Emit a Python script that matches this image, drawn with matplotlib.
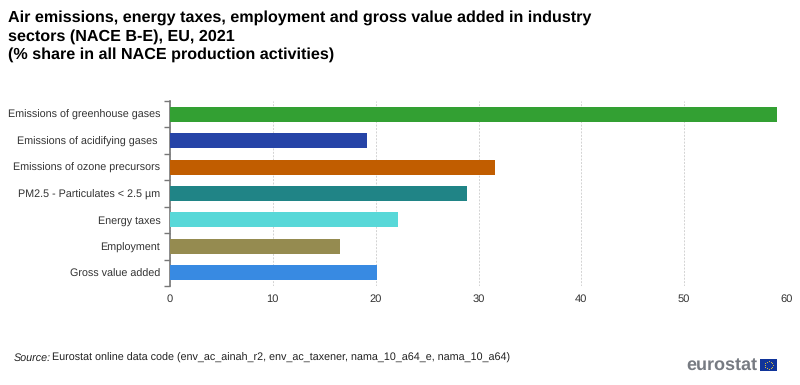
# -*- coding: utf-8 -*-
import numpy as np
import matplotlib.pyplot as plt
from matplotlib.patches import Rectangle

categories = ['Emissions of greenhouse gases', 'Emissions of acidifying gases ',
              'Emissions of ozone precursors', 'PM2.5 - Particulates < 2.5 µm',
              'Energy taxes', 'Employment', 'Gross value added']
values = [59.0, 19.2, 31.6, 28.9, 22.15, 16.5, 20.1]
colors = ['#33A033', '#2644A7', '#C15D00', '#208486', '#58D8D8', '#958B50', '#388AE2']
xticks = [0, 10, 20, 30, 40, 50, 60]

plt.rcParams['font.family'] = ['Liberation Sans', 'DejaVu Sans']
plt.rcParams['text.hinting'] = 'no_hinting'

W, H = 800, 385
fig = plt.figure(figsize=(W / 100, H / 100), dpi=100)
ax = fig.add_axes([170 / W, 1 - 286 / H, (787 - 170) / W, (286 - 101) / H])

# bars
y = np.arange(len(categories))
ax.barh(y, values, height=0.57, color=colors, zorder=3)
ax.set_ylim(len(categories) - 0.5, -0.5)
ax.set_xlim(0, 60)

ax.set_xticks(xticks)
ax.set_yticks(y)
ax.set_yticklabels(categories)
ax.set_yticks(np.arange(-0.5, len(categories)), minor=True)
ax.grid(axis='x', color='#D2D2D2', linestyle=(0, (2, 1.5)), linewidth=0.7, zorder=0)
ax.tick_params(axis='y', which='major', length=0, pad=7, labelsize=7.75, labelcolor='#333333')
ax.tick_params(axis='y', which='minor', length=4, width=1, color='#777777', direction='out')
ax.tick_params(axis='x', length=0, pad=6, labelsize=8, labelcolor='#333333')

for s in ['top', 'right', 'bottom']:
    ax.spines[s].set_visible(False)
ax.spines['left'].set_color('#777777')
ax.spines['left'].set_linewidth(1.2)

# title
title_lines = ['Air emissions, energy taxes, employment and gross value added in industry',
               'sectors (NACE B-E), EU, 2021',
               '(% share in all NACE production activities)']
for i, line in enumerate(title_lines):
    fig.text(7.5 / W, 1 - (18 + 18.5 * i) / H, line, fontsize=11.6, fontweight='bold',
             color='black', va='center', ha='left')

# source
fig.text(14 / W, 1 - 358 / H, 'Source:', fontsize=7.75, style='italic', color='#222222', va='center')
fig.text(52 / W, 1 - 358 / H, 'Eurostat online data code (env_ac_ainah_r2, env_ac_taxener, nama_10_a64_e, nama_10_a64)',
         fontsize=7.75, color='#222222', va='center')

# logo
fig.text(757 / W, 1 - 365.5 / H, 'eurostat', fontsize=13, fontweight='bold', color='#777B82',
         va='center', ha='right')
fig.add_artist(Rectangle((760 / W, 1 - 371 / H), 17 / W, 12 / H, transform=fig.transFigure,
                         facecolor='#10349A', edgecolor='none'))
t = np.linspace(0, 2 * np.pi, 12, endpoint=False)
fig.add_artist(plt.Line2D((768.5 + 4 * np.cos(t)) / W, 1 - (365 + 4 * np.sin(t)) / H, transform=fig.transFigure,
                          linestyle='none', marker='o', markersize=0.8, color='#E6C93A', markeredgewidth=0))

plt.savefig('out.png', dpi=100)
